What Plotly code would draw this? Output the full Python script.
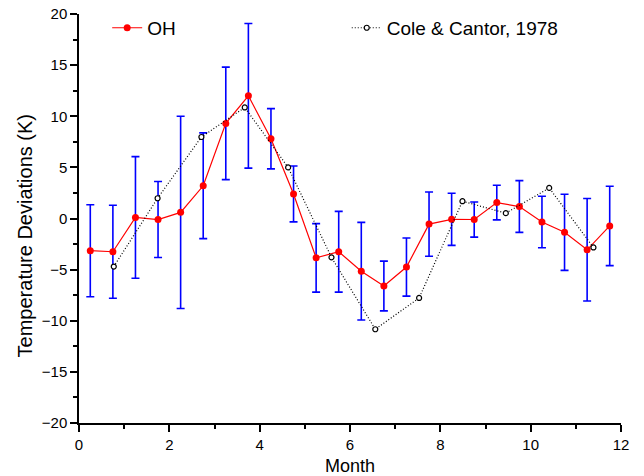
import plotly.graph_objects as go

# OH temperature deviations, semi-monthly
oh_month = [0.25, 0.75, 1.25, 1.75, 2.25, 2.75, 3.25, 3.75, 4.25, 4.75, 5.25, 5.75,
            6.25, 6.75, 7.25, 7.75, 8.25, 8.75, 9.25, 9.75, 10.25, 10.75, 11.25, 11.75]
oh_dev = [-3.15, -3.25, 0.1, -0.1, 0.6, 3.2, 9.3, 12.0, 7.8, 2.4, -3.85, -3.25,
          -5.15, -6.6, -4.75, -0.55, -0.08, -0.1, 1.56, 1.17, -0.34, -1.35, -3.06, -0.73]
oh_err = [4.5, 4.55, 5.95, 3.72, 9.4, 5.17, 5.5, 7.07, 2.95, 2.73, 3.35, 3.95,
          4.77, 2.43, 2.84, 3.14, 2.55, 1.72, 1.69, 2.53, 2.52, 3.72, 5.01, 3.88]

# Cole & Cantor, 1978
cc_month = [0.77, 1.74, 2.71, 3.67, 4.63, 5.59, 6.56, 7.53, 8.49, 9.45, 10.41, 11.39]
cc_dev = [-4.7, 1.98, 7.97, 10.86, 5.0, -3.8, -10.83, -7.77, 1.69, 0.52, 2.99, -2.83]

FONT = "Liberation Sans, Arial, sans-serif"

fig = go.Figure()
fig.add_trace(go.Scatter(
    name="OH",
    x=oh_month,
    y=oh_dev,
    mode="lines+markers",
    line=dict(color="red", width=1.2),
    marker=dict(color="red", size=7),
    error_y=dict(type="data", array=oh_err, color="blue", thickness=1.6, width=4),
    showlegend=True,
    legend="legend",
))
fig.add_trace(go.Scatter(
    name="Cole & Cantor, 1978",
    x=cc_month,
    y=cc_dev,
    mode="lines+markers",
    line=dict(color="black", width=1.2, dash="1px,2px"),
    marker=dict(color="white", size=5, symbol="circle",
                line=dict(color="black", width=1.2)),
    showlegend=True,
    legend="legend2",
))

fig.update_layout(
    width=644,
    height=476,
    showlegend=True,
    plot_bgcolor="white",
    paper_bgcolor="white",
    font=dict(family=FONT, size=15, color="black"),
    margin=dict(l=79, r=23, t=14, b=53, autoexpand=False),
    legend=dict(x=0.052, y=0.966, xanchor="left", yanchor="middle",
                font=dict(size=19), bgcolor="rgba(0,0,0,0)"),
    legend2=dict(x=0.494, y=0.966, xanchor="left", yanchor="middle",
                 font=dict(size=19), bgcolor="rgba(0,0,0,0)"),
    # y title sits a bit below the axis centre in the original, so use an annotation
    annotations=[
        dict(text="Temperature Deviations (K)", textangle=-90,
             xref="paper", yref="paper", x=-0.099, y=0.457,
             xanchor="center", yanchor="middle", showarrow=False,
             font=dict(size=20)),
    ],
)
fig.update_xaxes(
    title=dict(text="Month", font=dict(size=18), standoff=8),
    automargin=False,
    range=[0, 12],
    tickvals=[0, 2, 4, 6, 8, 10, 12],
    ticks="outside",
    ticklen=7,
    tickwidth=1.5,
    tickcolor="black",
    minor=dict(tickvals=[1, 3, 5, 7, 9, 11], ticks="outside", ticklen=4,
               tickwidth=1.5, tickcolor="black", showgrid=False),
    showline=True,
    linecolor="black",
    linewidth=1.5,
    showgrid=False,
    zeroline=False,
)
fig.update_yaxes(
    automargin=False,
    range=[-20, 20],
    tickvals=[-20, -15, -10, -5, 0, 5, 10, 15, 20],
    ticks="outside",
    ticklen=7,
    tickwidth=1.5,
    tickcolor="black",
    minor=dict(tickvals=[-17.5, -12.5, -7.5, -2.5, 2.5, 7.5, 12.5, 17.5],
               ticks="outside", ticklen=4, tickwidth=1.5, tickcolor="black",
               showgrid=False),
    showline=True,
    linecolor="black",
    linewidth=1.5,
    showgrid=False,
    zeroline=False,
)

# page body margin would shift the 644x476 figure, so drop it
fig.write_html("out.html", config=dict(displayModeBar=False),
               post_script="document.body.style.margin='0';")
